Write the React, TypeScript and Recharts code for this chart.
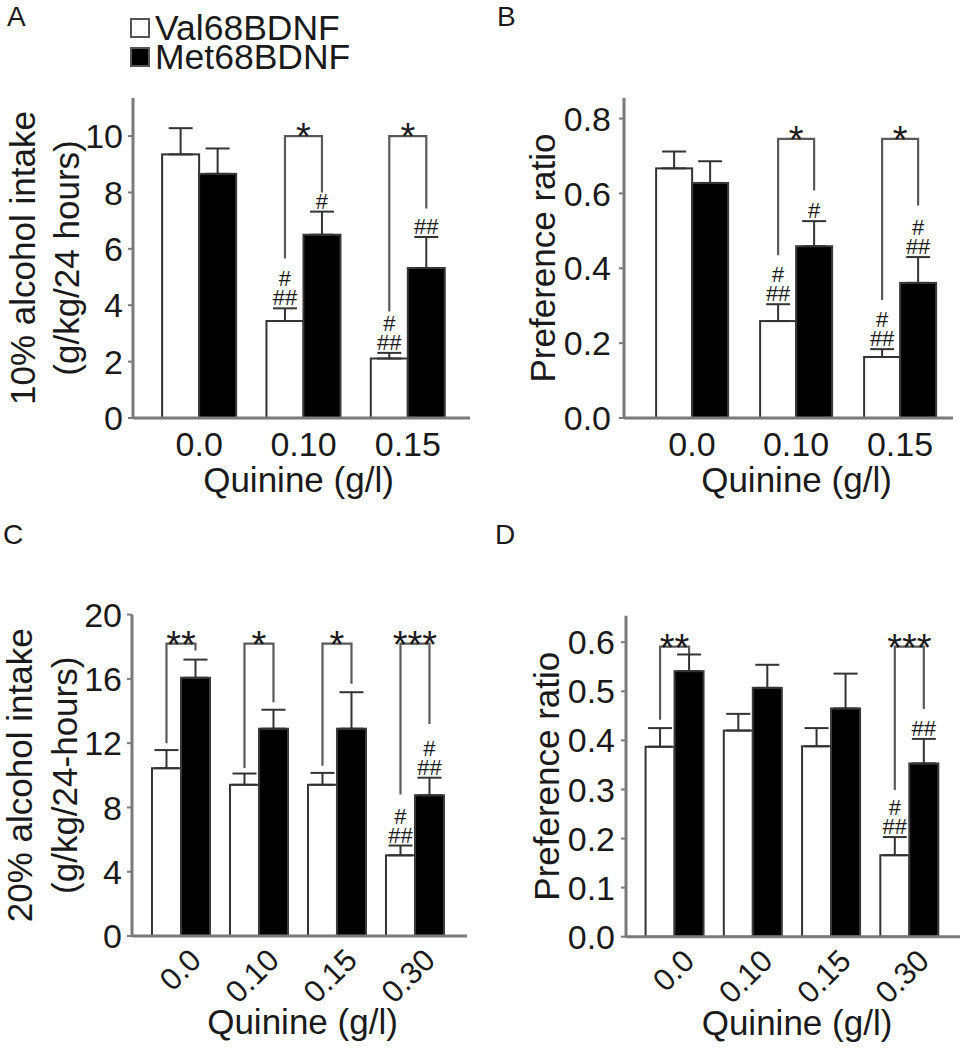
import React from 'react';
import { BarChart, Bar, XAxis, YAxis, ErrorBar, Label } from 'recharts';

const FONT = '"Liberation Sans", Arial, Helvetica, sans-serif';
const INK = '#1a1a1a';
const AXIS = '#7a7a7a';
const BRACKET = '#5a5a5a';

// ---------- legend ----------
const seriesNames = ['Val68BDNF', 'Met68BDNF'];
const seriesFills = ['#ffffff', '#000000'];

// ---------- Panel A: 10% alcohol intake ----------
const qA = ['0.0', '0.10', '0.15'];
const valA = [9.35, 3.44, 2.11];
const valErrA = [0.93, 0.45, 0.2];
const metA = [8.66, 6.5, 5.32];
const metErrA = [0.9, 0.82, 1.1];
const valHashA = [[], ['#', '##'], ['#', '##']];
const metHashA = [[], ['#'], ['##']];
const brTopA = [null, 10.0, 10.0];
const brLeftA = [null, 5.66, 3.78];
const brRightA = [null, 8.0, 7.43];
const starsA = ['', '*', '*'];
const ticksA = [0, 2, 4, 6, 8, 10];

// ---------- Panel B: preference ratio (10%) ----------
const qB = ['0.0', '0.10', '0.15'];
const valB = [0.667, 0.259, 0.163];
const valErrB = [0.045, 0.045, 0.021];
const metB = [0.628, 0.459, 0.361];
const metErrB = [0.058, 0.067, 0.069];
const valHashB = [[], ['#', '##'], ['#', '##']];
const metHashB = [[], ['#'], ['#', '##']];
const brTopB = [null, 0.746, 0.746];
const brLeftB = [null, 0.435, 0.315];
const brRightB = [null, 0.608, 0.568];
const starsB = ['', '*', '*'];
const ticksB = [0, 0.2, 0.4, 0.6, 0.8];

// ---------- Panel C: 20% alcohol intake ----------
const qC = ['0.0', '0.10', '0.15', '0.30'];
const valC = [10.44, 9.41, 9.41, 5.02];
const valErrC = [1.13, 0.7, 0.74, 0.61];
const metC = [16.07, 12.9, 12.9, 8.76];
const metErrC = [1.13, 1.18, 2.27, 1.09];
const valHashC = [[], [], [], ['#', '##']];
const metHashC = [[], [], [], ['#', '##']];
const brTopC = [18.2, 18.2, 18.2, 18.2];
const brLeftC = [12.0, 10.46, 10.6, 8.8];
const brRightC = [17.76, 14.54, 15.7, 13.2];
const starsC = ['**', '*', '*', '***'];
const ticksC = [0, 4, 8, 12, 16, 20];

// ---------- Panel D: preference ratio (20%) ----------
const qD = ['0.0', '0.10', '0.15', '0.30'];
const valD = [0.387, 0.42, 0.388, 0.166];
const valErrD = [0.038, 0.034, 0.037, 0.037];
const metD = [0.541, 0.507, 0.465, 0.353];
const metErrD = [0.034, 0.047, 0.071, 0.05];
const valHashD = [[], [], [], ['#', '##']];
const metHashD = [[], [], [], ['##']];
const brTopD = [0.591, null, null, 0.591];
const brLeftD = [0.442, null, null, 0.299];
const brRightD = [0.575, null, null, 0.464];
const starsD = ['**', '', '', '***'];
const ticksD = [0, 0.1, 0.2, 0.3, 0.4, 0.5, 0.6];

const makeRows = (q: string[], val: number[], valErr: number[], met: number[], metErr: number[]) =>
  q.map((c, i) => ({ q: c, val: val[i], met: met[i], valErr: [0, valErr[i]], metErr: [0, metErr[i]] }));

const HASH_STEP = 19;

const hashText = (lines: string[], cx: number, errTop: number) => {
  if (!lines.length) return null;
  const firstY = errTop - 3 - (lines.length - 1) * HASH_STEP;
  return (
    <text x={cx} y={firstY} textAnchor="middle" fontSize={22} fontFamily={FONT} fill={INK}>
      {lines.map((t, k) => (
        <tspan key={k} x={cx} dy={k === 0 ? 0 : HASH_STEP}>
          {t}
        </tspan>
      ))}
    </text>
  );
};

const makeValShape = (hash: string[][]) => (p: any) => {
  const { x, y, width, height, index, payload } = p;
  const ppu = height / payload.val;
  const errTop = y - payload.valErr[1] * ppu;
  const lines = hash[index] || [];
  return (
    <g>
      <rect x={x} y={y} width={width} height={height} fill="#ffffff" stroke="#333" strokeWidth={2} />
      {hashText(lines, x + width / 2, errTop)}
    </g>
  );
};

const makeMetShape = (
  hash: string[][],
  brTop: (number | null)[],
  brLeft: (number | null)[],
  brRight: (number | null)[],
  stars: string[]
) => (p: any) => {
  const { x, y, width, height, index, payload } = p;
  const base = y + height;
  const ppu = height / payload.met;
  const yv = (v: number) => base - v * ppu;
  const errTop = y - payload.metErr[1] * ppu;
  const lines = hash[index] || [];
  const valCx = x - width / 2;
  const metCx = x + width / 2;
  const top = brTop[index];
  return (
    <g>
      <rect x={x} y={y} width={width} height={height} fill="#000000" stroke="#3a3a3a" strokeWidth={2} />
      {hashText(lines, metCx, errTop)}
      {top != null && (
        <g>
          <path
            d={`M${valCx},${yv(brLeft[index] as number)} L${valCx},${yv(top)} L${metCx},${yv(top)} L${metCx},${yv(
              brRight[index] as number
            )}`}
            fill="none"
            stroke={BRACKET}
            strokeWidth={2.2}
          />
          <text x={(valCx + metCx) / 2} y={yv(top) + 14} textAnchor="middle" fontSize={38} fontFamily={FONT} fill={INK}>
            {stars[index]}
          </text>
        </g>
      )}
    </g>
  );
};

const RotTick = (p: any) => {
  const { x, y, payload } = p;
  const ax = x + 22;
  const ay = y + 26;
  return (
    <text
      x={ax}
      y={ay}
      textAnchor="end"
      fontSize={31}
      fontFamily={FONT}
      fill={INK}
      transform={`rotate(-45, ${ax}, ${ay})`}
    >
      {payload.value}
    </text>
  );
};

const yTitle = (lines: string[], xs: number[]) => (p: any) => {
  const vb = p.viewBox || { x: 0, y: 0, width: 0, height: 0 };
  const cy = vb.y + vb.height / 2;
  return (
    <g>
      {lines.map((t, i) => (
        <text
          key={i}
          x={xs[i]}
          y={cy}
          textAnchor="middle"
          dominantBaseline="central"
          fontSize={35}
          fontFamily={FONT}
          fill={INK}
          transform={`rotate(-90, ${xs[i]}, ${cy})`}
        >
          {t}
        </text>
      ))}
    </g>
  );
};

const xTitle = (dx: number, off: number) => (p: any) => {
  const vb = p.viewBox || { x: 0, y: 0, width: 0, height: 0 };
  return (
    <text x={vb.x + vb.width / 2 + dx} y={vb.y + off} textAnchor="middle" fontSize={35} fontFamily={FONT} fill={INK}>
      Quinine (g/l)
    </text>
  );
};

type PanelProps = {
  rows: any[];
  width: number;
  height: number;
  margin: any;
  yWidth: number;
  xHeight: number;
  domainMax: number;
  ticks: number[];
  decimals: number;
  tickMargin: number;
  padding: { left: number; right: number };
  gap: string;
  rotated: boolean;
  yLines: string[];
  yXs: number[];
  xDx: number;
  xOff: number;
  valShape: any;
  metShape: any;
};

const Panel = (P: PanelProps) => (
  <BarChart width={P.width} height={P.height} data={P.rows} margin={P.margin} barGap={0} barCategoryGap={P.gap}>
    <XAxis
      dataKey="q"
      type="category"
      interval={0}
      height={P.xHeight}
      padding={P.padding}
      axisLine={{ stroke: AXIS, strokeWidth: 3 }}
      tickLine={false}
      tickSize={0}
      tickMargin={P.rotated ? 0 : 14}
      tick={P.rotated ? <RotTick /> : { fontSize: 34, fill: INK, fontFamily: FONT }}
    >
      <Label content={xTitle(P.xDx, P.xOff)} />
    </XAxis>
    <YAxis
      type="number"
      width={P.yWidth}
      domain={[0, P.domainMax]}
      allowDataOverflow
      ticks={P.ticks}
      interval={0}
      tickFormatter={(v: number) => v.toFixed(P.decimals)}
      axisLine={{ stroke: AXIS, strokeWidth: 3 }}
      tickLine={{ stroke: AXIS, strokeWidth: 2 }}
      tickSize={5}
      tickMargin={P.tickMargin}
      tick={{ fontSize: 34, fill: INK, fontFamily: FONT }}
    >
      <Label content={yTitle(P.yLines, P.yXs)} />
    </YAxis>
    <Bar dataKey="val" name={seriesNames[0]} fill={seriesFills[0]} stroke="#333" isAnimationActive={false} shape={P.valShape}>
      <ErrorBar dataKey="valErr" direction="y" width={12} stroke="#333" strokeWidth={2} />
    </Bar>
    <Bar dataKey="met" name={seriesNames[1]} fill={seriesFills[1]} stroke="#333" isAnimationActive={false} shape={P.metShape}>
      <ErrorBar dataKey="metErr" direction="y" width={12} stroke="#333" strokeWidth={2} />
    </Bar>
  </BarChart>
);

const LegendBox = () => (
  <div style={{ position: 'absolute', left: 130, top: 13.5, fontFamily: FONT, fontSize: 35.5, color: INK, lineHeight: '29px' }}>
    {seriesNames.map((n, i) => (
      <div key={n} style={{ display: 'flex', alignItems: 'center', height: 29, whiteSpace: 'nowrap' }}>
        <span
          style={{
            display: 'inline-block',
            width: 20,
            height: 20,
            boxSizing: 'border-box',
            border: '2px solid #555',
            background: seriesFills[i],
            marginRight: 5,
            flex: '0 0 auto',
          }}
        />
        <span>{n}</span>
      </div>
    ))}
  </div>
);

export default function App() {
  return (
    <div style={{ position: 'absolute', left: 0, top: 0, width: 962, height: 1050, background: '#fff', overflow: 'hidden' }}>
      <div style={{ position: 'absolute', left: 0, top: 0 }}>
        <Panel
          rows={makeRows(qA, valA, valErrA, metA, metErrA)}
          width={480}
          height={500}
          margin={{ top: 98, right: 10, bottom: 0, left: 0 }}
          yWidth={133}
          xHeight={82}
          domainMax={11.35}
          ticks={ticksA}
          decimals={0}
          tickMargin={5}
          padding={{ left: 14, right: 10 }}
          gap="14.5%"
          rotated={false}
          yLines={['10% alcohol intake', '(g/kg/24 hours)']}
          yXs={[22, 66]}
          xDx={-3}
          xOff={74}
          valShape={makeValShape(valHashA)}
          metShape={makeMetShape(metHashA, brTopA, brLeftA, brRightA, starsA)}
        />
      </div>
      <div style={{ position: 'absolute', left: 480, top: 0 }}>
        <Panel
          rows={makeRows(qB, valB, valErrB, metB, metErrB)}
          width={482}
          height={500}
          margin={{ top: 98, right: 9, bottom: 0, left: 0 }}
          yWidth={144}
          xHeight={82}
          domainMax={0.855}
          ticks={ticksB}
          decimals={1}
          tickMargin={8}
          padding={{ left: 16, right: 1 }}
          gap="15.5%"
          rotated={false}
          yLines={['Preference ratio']}
          yXs={[62]}
          xDx={8}
          xOff={74}
          valShape={makeValShape(valHashB)}
          metShape={makeMetShape(metHashB, brTopB, brLeftB, brRightB, starsB)}
        />
      </div>
      <div style={{ position: 'absolute', left: 0, top: 500 }}>
        <Panel
          rows={makeRows(qC, valC, valErrC, metC, metErrC)}
          width={480}
          height={550}
          margin={{ top: 114.6, right: 13, bottom: 0, left: 0 }}
          yWidth={132}
          xHeight={114}
          domainMax={20}
          ticks={ticksC}
          decimals={0}
          tickMargin={5}
          padding={{ left: 10, right: 13 }}
          gap="12.8%"
          rotated
          yLines={['20% alcohol intake', '(g/kg/24-hours)']}
          yXs={[20, 65]}
          xDx={3}
          xOff={98}
          valShape={makeValShape(valHashC)}
          metShape={makeMetShape(metHashC, brTopC, brLeftC, brRightC, starsC)}
        />
      </div>
      <div style={{ position: 'absolute', left: 480, top: 500 }}>
        <Panel
          rows={makeRows(qD, valD, valErrD, metD, metErrD)}
          width={482}
          height={550}
          margin={{ top: 115.7, right: 2, bottom: 0, left: 0 }}
          yWidth={146}
          xHeight={113.3}
          domainMax={0.654}
          ticks={ticksD}
          decimals={1}
          tickMargin={6}
          padding={{ left: 9, right: 12 }}
          gap="13.5%"
          rotated
          yLines={['Preference ratio']}
          yXs={[67]}
          xDx={4}
          xOff={98}
          valShape={makeValShape(valHashD)}
          metShape={makeMetShape(metHashD, brTopD, brLeftD, brRightD, starsD)}
        />
      </div>
      <LegendBox />
      <svg width={962} height={1050} style={{ position: 'absolute', left: 0, top: 0, pointerEvents: 'none' }}>
        <text x={7} y={26} fontSize={28} fontFamily={FONT} fill={INK}>A</text>
        <text x={497} y={26} fontSize={28} fontFamily={FONT} fill={INK}>B</text>
        <text x={3} y={544} fontSize={28} fontFamily={FONT} fill={INK}>C</text>
        <text x={495} y={544} fontSize={28} fontFamily={FONT} fill={INK}>D</text>
      </svg>
    </div>
  );
}
